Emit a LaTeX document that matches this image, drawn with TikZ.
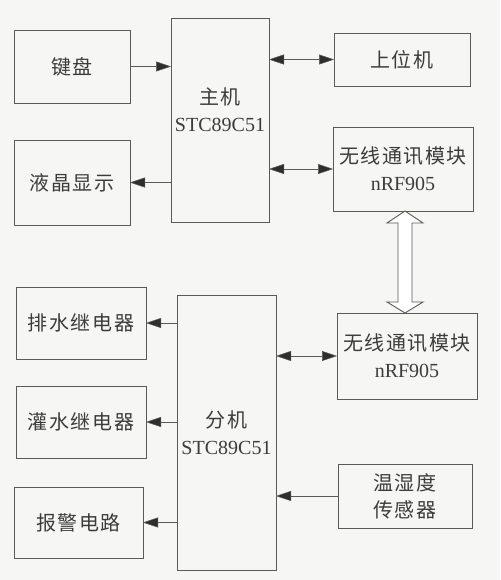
\documentclass[tikz,border=0pt]{standalone}
\usepackage{fontspec}
\setmainfont{Liberation Serif}
\newfontfamily\cjk[LetterSpace=8]{Noto Sans CJK SC}
\usetikzlibrary{arrows.meta,calc}
\definecolor{lc}{HTML}{5A5A5A}
\definecolor{tc}{HTML}{3C3C3C}
\definecolor{hc}{HTML}{2E2E2E}
\definecolor{bg}{HTML}{F6F6F4}
\begin{document}
\begin{tikzpicture}[x=1pt,y=-1pt,
  box/.style={draw=lc, line width=0.9pt, fill=bg, inner sep=0pt, outer sep=0pt, align=center, text=tc, font=\fontsize{20}{27}\selectfont},
  tip/.tip={Triangle[length=15pt,width=10pt,fill=hc,line width=0.5pt]},
  arr/.style={draw=lc, line width=0.9pt, -tip},
  darr/.style={draw=lc, line width=0.9pt, tip-tip},
  hollowarr/.style={draw=lc, line width=0.9pt, fill=white, line join=miter}]
\fill[bg] (0,0) rectangle (500,580);
\useasboundingbox (0,0) rectangle (500,580);
% upper part
\node[box, minimum width=116, minimum height=73] (kb) at (72,66.5) {\cjk 键盘};
\node[box, minimum width=116, minimum height=85] (lcd) at (72,182.5) {\cjk 液晶显示};
\node[box, minimum width=98, minimum height=204] (host) at (220,120) {{\cjk 主机}\\STC89C51\\[-6pt]};
\node[box, minimum width=136, minimum height=53] (pc) at (402,59.5) {\cjk 上位机};
\node[box, minimum width=140, minimum height=84] (w1) at (403,169) {{\cjk 无线通讯模块}\\nRF905};
% lower part
\node[box, minimum width=130, minimum height=72] (pai) at (81,323) {\cjk 排水继电器};
\node[box, minimum width=130, minimum height=72] (guan) at (81,422) {\cjk 灌水继电器};
\node[box, minimum width=129, minimum height=71] (bj) at (78.5,522.5) {\cjk 报警电路};
\node[box, minimum width=99, minimum height=275] (slave) at (226.5,432.5) {{\cjk 分机}\\STC89C51};
\node[box, minimum width=140, minimum height=86] (w2) at (407,356) {{\cjk 无线通讯模块}\\nRF905};
\node[box, minimum width=134, minimum height=64] (sen) at (405,496) {{\cjk 温湿度}\\{\cjk 传感器}};
% connectors
\draw[arr] (kb.east) -- (host.west |- kb.east);
\draw[arr] (host.west |- lcd.east) -- (lcd.east);
\draw[darr] (host.east |- pc.west) -- (pc.west);
\draw[darr] (host.east |- w1.west) -- (w1.west);
\draw[arr] (slave.west |- pai.east) -- (pai.east);
\draw[arr] (slave.west |- guan.east) -- (guan.east);
\draw[arr] (slave.west |- bj.east) -- (bj.east);
\draw[darr] (slave.east |- w2.west) -- (w2.west);
\draw[arr] (sen.west) -- (slave.east |- sen.west);
% hollow double arrow between wireless modules
\coordinate (ax) at (405,0);
\coordinate (T) at (ax |- w1.south);
\coordinate (B) at (ax |- w2.north);
\draw[hollowarr] (T) -- ($(T)+(18,12)$) -- ($(T)+(7,12)$) -- ($(B)+(7,-11)$) -- ($(B)+(18,-11)$) -- (B)
  -- ($(B)+(-18,-11)$) -- ($(B)+(-7,-11)$) -- ($(T)+(-7,12)$) -- ($(T)+(-18,12)$) -- cycle;
\end{tikzpicture}
\end{document}
